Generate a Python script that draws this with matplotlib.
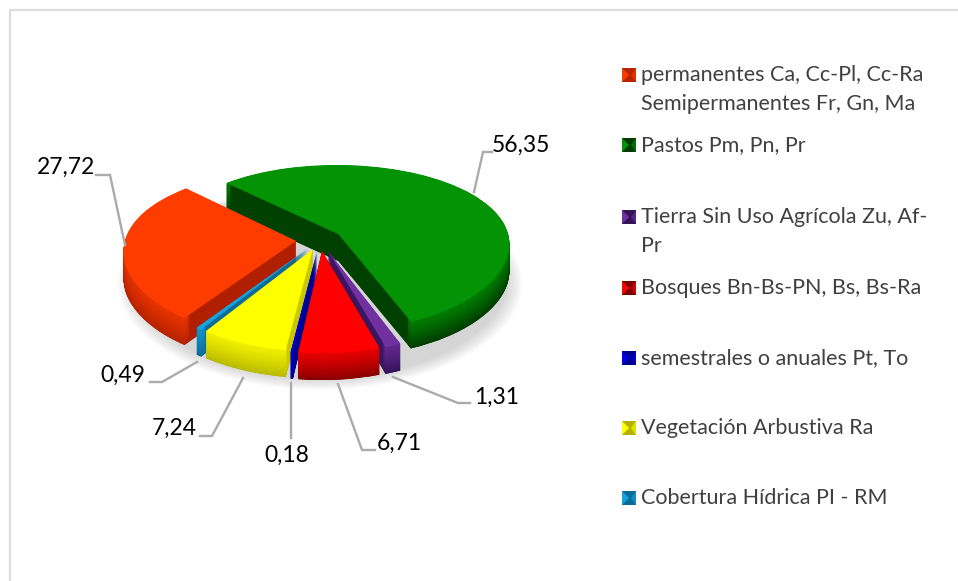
import numpy as np
import matplotlib
matplotlib.use("Agg")
import matplotlib.pyplot as plt
from matplotlib.colors import to_rgb
from matplotlib.patches import Circle, Polygon
from matplotlib.transforms import Transform

plt.rcParams['font.family'] = ['Lato', 'DejaVu Sans']

# Data, clockwise from the green slice
values = [56.35, 1.31, 6.71, 0.18, 7.24, 0.49, 27.72]
value_labels = ['56,35', '1,31', '6,71', '0,18', '7,24', '0,49', '27,72']
top_colors = ['#049304', '#7030A0', '#FF0000', '#0000E6', '#FFFF00', '#17A2DC', '#FF3C00']
rim_colors = ['#003C00', '#34125A', '#800000', '#000090', '#B4B400', '#0C6C98', '#B82400']
cut_colors = ['#004000', '#3A1560', '#A00000', '#000090', '#C8C800', '#0C6C98', '#B02000']

legend_rows = [
    ['permanentes Ca, Cc-Pl, Cc-Ra', 'Semipermanentes Fr, Gn, Ma'],
    ['Pastos Pm, Pn, Pr'],
    ['Tierra Sin Uso Agrícola Zu, Af-', 'Pr'],
    ['Bosques Bn-Bs-PN, Bs, Bs-Ra'],
    ['semestrales o anuales Pt, To'],
    ['Vegetación Arbustiva Ra'],
    ['Cobertura Hídrica PI - RM'],
]
legend_idx = [6, 0, 1, 2, 3, 4, 5]
legend_y = [75, 145, 217, 288, 358, 428, 498]

# Layout, in pixels of the picture
CX, CY = 320, 240
RX, RY = 171, 82
PERSP = 0.16
PERSP_X = 0.11
DEPTH = 27
START = 134.7
EXPLODE = [0.13, 0.13, 0.13, 0.13, 0.12, 0.12, 0.14]

# label text position, then leader line points
label_pos = [(521, 145), (497, 397), (399, 443), (287, 455), (174, 428), (123, 375), (66, 167)]
leaders = [
    [(492, 152), (483, 152), (474, 192)],
    [(470, 403), (458, 403), (393, 377)],
    [(375, 450), (362, 450), (338, 384)],
    [(291, 438), (291, 383)],
    [(200, 436), (212, 436), (243, 378)],
    [(150, 382), (162, 382), (197, 362)],
    [(96, 175), (110, 175), (125, 245)],
]


class Tilt(Transform):
    # flat pie -> tilted disc seen in perspective, output in picture pixels
    input_dims = 2
    output_dims = 2

    def __init__(self, dz=0):
        super().__init__()
        self.dz = dz

    def transform_non_affine(self, xy):
        xy = np.asarray(xy)
        sx = 1 / (1 + PERSP_X * xy[:, 1])
        sy = 1 / (1 + PERSP * xy[:, 1])
        return np.column_stack([CX + RX * xy[:, 0] * sx,
                                CY + self.dz - RY * xy[:, 1] * sy])


def blend(c1, c2, t):
    a, b = np.array(to_rgb(c1)), np.array(to_rgb(c2))
    return tuple(a + (b - a) * t)


def draw_pie(dz, colors, width=None):
    props = {'linewidth': 0, 'snap': False}
    if width is not None:
        props['width'] = width
    wedges, _ = ax.pie(values, colors=colors, startangle=START, counterclock=False,
                       explode=EXPLODE, wedgeprops=props)
    for w in wedges:
        w.set_transform(Tilt(dz) + ax.transData)


fig = plt.figure(figsize=(9.58, 5.81), dpi=100)
ax = fig.add_axes([0, 0, 1, 1])

# soft shadow under the pie
for r in np.linspace(1.17, 1.08, 8):
    ax.add_patch(Circle((0, -0.02), r, fc='#8C8C8C', ec='none', alpha=0.05,
                        transform=Tilt(DEPTH + 2) + ax.transData))

# side walls, bottom layer first
for dz in np.arange(DEPTH, 0, -0.5):
    t = (dz / DEPTH) ** 1.3
    draw_pie(dz, cut_colors)
    draw_pie(dz, [blend(a, b, t) for a, b in zip(top_colors, rim_colors)], width=0.035)

draw_pie(0, top_colors)

ax.set_aspect('auto')
ax.set_xlim(0, 958)
ax.set_ylim(581, 0)
ax.axis('off')

# frame remains of the original picture
ax.plot([10, 10, 958], [581, 10, 10], color='#DCDCDC', lw=1.6, zorder=6)

# data labels with leaders
for txt, pos, pts in zip(value_labels, label_pos, leaders):
    xs, ys = zip(*pts)
    ax.plot(xs, ys, color='#ABABAB', lw=1.7, zorder=6, solid_joinstyle='miter')
    ax.text(pos[0], pos[1], txt, fontsize=16.5, color='black', ha='center', va='center', zorder=7)

# legend
for rows, idx, y in zip(legend_rows, legend_idx, legend_y):
    x0, x1 = 622, 636
    y0, y1 = y - 7, y + 7
    xm, ym = (x0 + x1) / 2, (y0 + y1) / 2
    ax.add_patch(Polygon([(x0, y0), (x1, y0), (x1, y1), (x0, y1)], fc=rim_colors[idx], ec='none', zorder=6))
    ax.add_patch(Polygon([(x0, y0), (xm, ym), (x0, y1)], fc=top_colors[idx], ec='none', zorder=7))
    ax.add_patch(Polygon([(x1, y0), (xm + 2, ym), (x1, y1)], fc=blend(top_colors[idx], rim_colors[idx], 0.4), ec='none', zorder=7))
    for i, line in enumerate(rows):
        ax.text(641, y + i * 29, line, fontsize=15.5, color='#404040', ha='left', va='center', zorder=7)

fig.savefig('out.png', dpi=100)
